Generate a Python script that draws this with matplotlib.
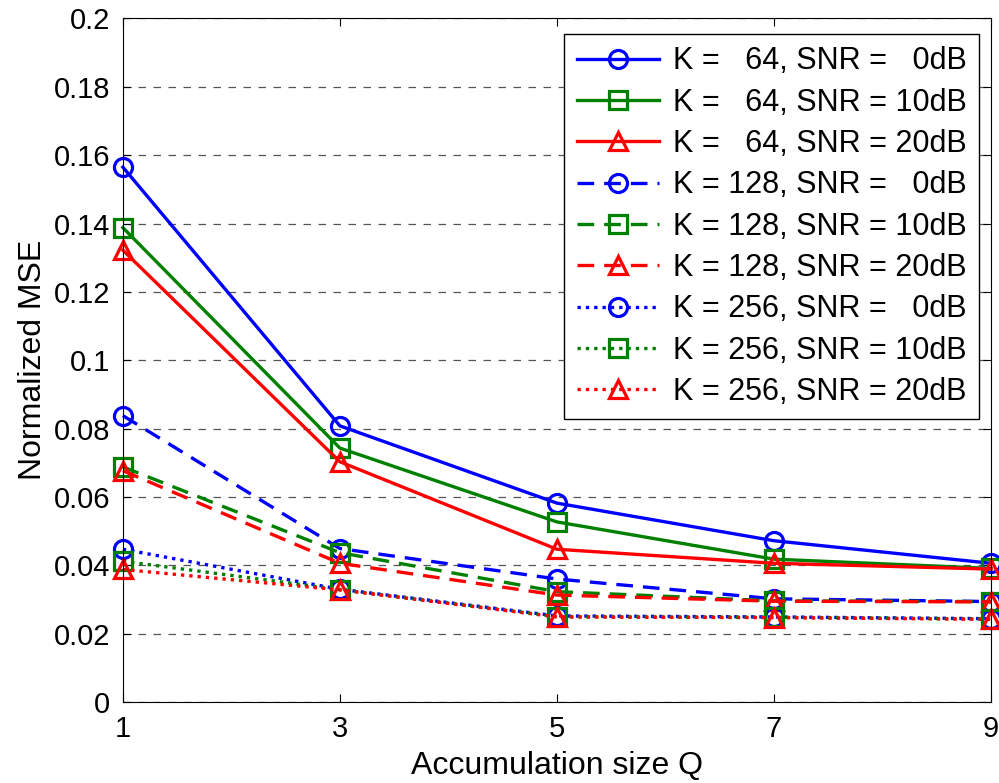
import numpy as np
import matplotlib.pyplot as plt

plt.rcParams['font.family'] = ['Liberation Sans', 'DejaVu Sans']

# Accumulation size Q
q = [1, 3, 5, 7, 9]

# Normalized MSE for each (K, SNR) pair
mse_k64_0 = [0.1565, 0.0808, 0.0582, 0.0472, 0.0406]
mse_k64_10 = [0.1388, 0.0743, 0.0527, 0.0418, 0.0391]
mse_k64_20 = [0.1322, 0.0703, 0.0447, 0.0406, 0.0389]
mse_k128_0 = [0.0838, 0.0449, 0.0360, 0.0302, 0.0294]
mse_k128_10 = [0.0688, 0.0437, 0.0323, 0.0296, 0.0294]
mse_k128_20 = [0.0677, 0.0406, 0.0313, 0.0295, 0.0293]
mse_k256_0 = [0.0447, 0.0330, 0.0252, 0.0249, 0.0244]
mse_k256_10 = [0.0412, 0.0329, 0.0250, 0.0248, 0.0243]
mse_k256_20 = [0.0388, 0.0328, 0.0249, 0.0247, 0.0242]

series = [
    (mse_k64_0, 'K =   64, SNR =   0dB'),
    (mse_k64_10, 'K =   64, SNR = 10dB'),
    (mse_k64_20, 'K =   64, SNR = 20dB'),
    (mse_k128_0, 'K = 128, SNR =   0dB'),
    (mse_k128_10, 'K = 128, SNR = 10dB'),
    (mse_k128_20, 'K = 128, SNR = 20dB'),
    (mse_k256_0, 'K = 256, SNR =   0dB'),
    (mse_k256_10, 'K = 256, SNR = 10dB'),
    (mse_k256_20, 'K = 256, SNR = 20dB'),
]

colors = ['#0000ff', '#008000', '#ff0000']
markers = ['o', 's', '^']
styles = ['-', (0, (5, 3)), (0, (1, 1.5))]

fig = plt.figure(figsize=(9.99, 7.83), dpi=100)
ax = fig.add_axes([0.123, 0.1034, 0.869, 0.873])

for i, (vals, label) in enumerate(series):
    ax.plot(q, vals, linestyle=styles[i // 3], color=colors[i % 3],
            marker=markers[i % 3], markersize=13, markerfacecolor='none',
            markeredgewidth=2.3, linewidth=2.4, label=label, clip_on=False)

ax.set_xlim(1, 9)
ax.set_ylim(0, 0.2)
ax.set_xticks(q)
ax.set_yticks(np.arange(0, 0.201, 0.02))
ax.set_yticklabels(['0', '0.02', '0.04', '0.06', '0.08', '0.1', '0.12',
                    '0.14', '0.16', '0.18', '0.2'])
ax.tick_params(direction='in', top=True, right=True, labelsize=21, length=6,
               pad=9)
ax.yaxis.grid(True, linestyle=(0, (6, 6)), color='#555555', linewidth=0.9)
ax.set_axisbelow(True)

ax.set_xlabel('Accumulation size Q', fontsize=23, labelpad=6)
ax.set_ylabel('Normalized MSE', fontsize=23, labelpad=4)

leg = ax.legend(loc='upper right', fontsize=22, handlelength=2.7,
                labelspacing=0.37, borderpad=0.4, handletextpad=0.45,
                fancybox=False, edgecolor='black', framealpha=1,
                bbox_to_anchor=(0.986, 0.977), borderaxespad=0)
leg.get_frame().set_linewidth(1.0)

fig.savefig('out.png', dpi=100)
